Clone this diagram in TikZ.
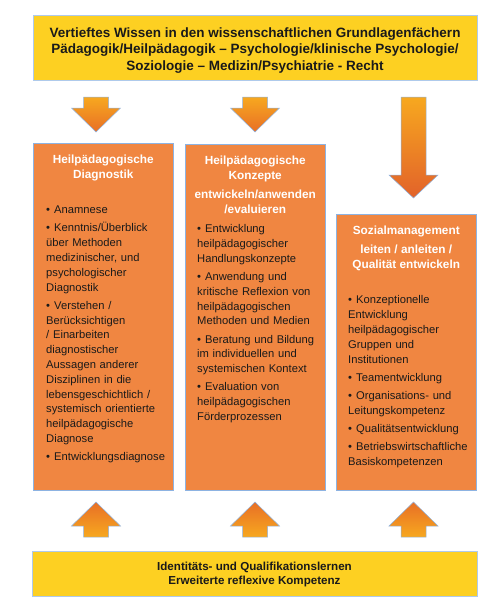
\documentclass[tikz,border=0pt]{standalone}
\usepackage{fontspec}
\setmainfont{Liberation Sans}
\usetikzlibrary{positioning}
\definecolor{kyellow}{HTML}{FDD022}
\definecolor{korange}{HTML}{F08641}
\definecolor{kedge}{HTML}{8DB3E2}
\definecolor{arrlight}{HTML}{F7A81F}
\definecolor{arrdark}{HTML}{E86F26}
\definecolor{arrdeep}{HTML}{E2622A}
\definecolor{ktext}{HTML}{1A1A1A}
% Aufzaehlungspunkt mit haengendem Einzug
\newcommand{\bpunkt}[1]{\par\hangindent=8pt\hangafter=1\noindent\makebox[8pt][l]{\textbullet}#1}
\tikzset{
  % gelbe Baender oben und unten
  bandbox/.style={draw=kedge!70, line width=0.5pt, fill=kyellow, inner sep=0pt},
  bandtext/.style={inner sep=0pt, align=center, text=ktext},
  % orange Spalten
  colbox/.style={draw=kedge, line width=0.5pt, fill=korange, minimum width=140pt,
    inner sep=0pt, anchor=north west},
  coltitle/.style={text=white, font=\fontsize{11.8}{14.5}\selectfont\bfseries,
    align=center, inner sep=0pt, anchor=north},
  collist/.style={text=ktext, font={\fontsize{11.2}{14.8}\selectfont\setlength{\parskip}{3.3pt}},
    text width=124pt, align=left, inner sep=0pt, anchor=north west},
  % Blockpfeile
  blockarrow/.style={draw=kedge, line width=0.5pt},
}
\begin{document}
\begin{tikzpicture}[x=1pt, y=-1pt]
  \useasboundingbox (0,0) rectangle (500,608);
  % oberes Band
  \node[bandbox, minimum width=444pt, minimum height=65pt] (wissen) at (255,47.5) {};
  \node[bandtext, font=\fontsize{13.5}{16.5}\selectfont\bfseries] (wissenT)
    at ([yshift=-3pt]wissen.center)
    {Vertieftes Wissen in den wissenschaftlichen Grundlagenfächern\\
     Pädagogik/Heilpädagogik – Psychologie/klinische Psychologie/\\
     Soziologie – Medizin/Psychiatrie - Recht};
  % Spalten
  \node[colbox, minimum height=347pt] (diag) at (33,143) {};
  \node[colbox, minimum height=346pt] (konz) at (185,144) {};
  \node[colbox, minimum height=276pt] (soz) at (336,214) {};
  % Ueberschriften
  \node[coltitle] (diagT) at ([yshift=-12pt]diag.north) {Heilpädagogische\\Diagnostik};
  \node[coltitle] (konzT) at ([yshift=-12pt]konz.north)
    {Heilpädagogische\\Konzepte\\[5pt]entwickeln/anwenden\\/evaluieren};
  \node[coltitle] (sozT) at ([yshift=-12pt]soz.north)
    {Sozialmanagement\\[4.5pt]leiten / anleiten /\\Qualität entwickeln};
  % Listen
  \node[collist] (diagL) at ([xshift=13pt, yshift=-52.5pt]diag.north west) {%
    \bpunkt{Anamnese}
    \bpunkt{Kenntnis/Überblick\\über Methoden\\medizinischer, und\\psychologischer\\Diagnostik}
    \bpunkt{Verstehen /\\Berücksichtigen\\/ Einarbeiten\\diagnostischer\\Aussagen anderer\\Disziplinen in die\\lebensgeschichtlich /\\systemisch orientierte\\heilpädagogische\\Diagnose}
    \bpunkt{Entwicklungsdiagnose}};
  \node[collist] (konzL) at ([xshift=12pt, yshift=-70.5pt]konz.north west) {%
    \bpunkt{Entwicklung\\heilpädagogischer\\Handlungskonzepte}
    \bpunkt{Anwendung und\\kritische Reflexion von\\heilpädagogischen\\Methoden und Medien}
    \bpunkt{Beratung und Bildung\\im individuellen und\\systemischen Kontext}
    \bpunkt{Evaluation von\\heilpädagogischen\\Förderprozessen}};
  \node[collist] (sozL) at ([xshift=12pt, yshift=-71.5pt]soz.north west) {%
    \bpunkt{Konzeptionelle\\Entwicklung\\heilpädagogischer\\Gruppen und\\Institutionen}
    \bpunkt{Teamentwicklung}
    \bpunkt{Organisations- und\\Leitungskompetenz}
    \bpunkt{Qualitätsentwicklung}
    \bpunkt{Betriebswirtschaftliche\\Basiskompetenzen}};
  % unteres Band
  \node[bandbox, minimum width=445pt, minimum height=45pt] (ident) at (254.5,573.5) {};
  \node[bandtext, font=\fontsize{11.6}{14}\selectfont\bfseries] (identT)
    at ([yshift=-1pt]ident.center)
    {Identitäts- und Qualifikationslernen\\Erweiterte reflexive Kompetenz};
  % Pfeile nach unten
  \foreach \ax in {96,255} {
    \shade[blockarrow, top color=arrlight, bottom color=arrdark]
      ({\ax-12.5},97) -- ({\ax+12.5},97) -- ({\ax+12.5},108) -- ({\ax+24.5},108)
      -- (\ax,132) -- ({\ax-24.5},108) -- ({\ax-12.5},108) -- cycle;
  }
  \shade[blockarrow, top color=arrlight, middle color=arrdeep!90!arrlight, bottom color=arrdeep]
    (401,97) -- (426,97) -- (426,175) -- (438,175) -- (413.5,198) -- (389,175)
    -- (401,175) -- cycle;
  % Pfeile nach oben
  \foreach \ax in {96,255,413.5} {
    \shade[blockarrow, top color=arrdark, bottom color=arrlight]
      ({\ax-12.5},537) -- ({\ax+12.5},537) -- ({\ax+12.5},526) -- ({\ax+24.5},526)
      -- (\ax,502) -- ({\ax-24.5},526) -- ({\ax-12.5},526) -- cycle;
  }
\end{tikzpicture}
\end{document}
